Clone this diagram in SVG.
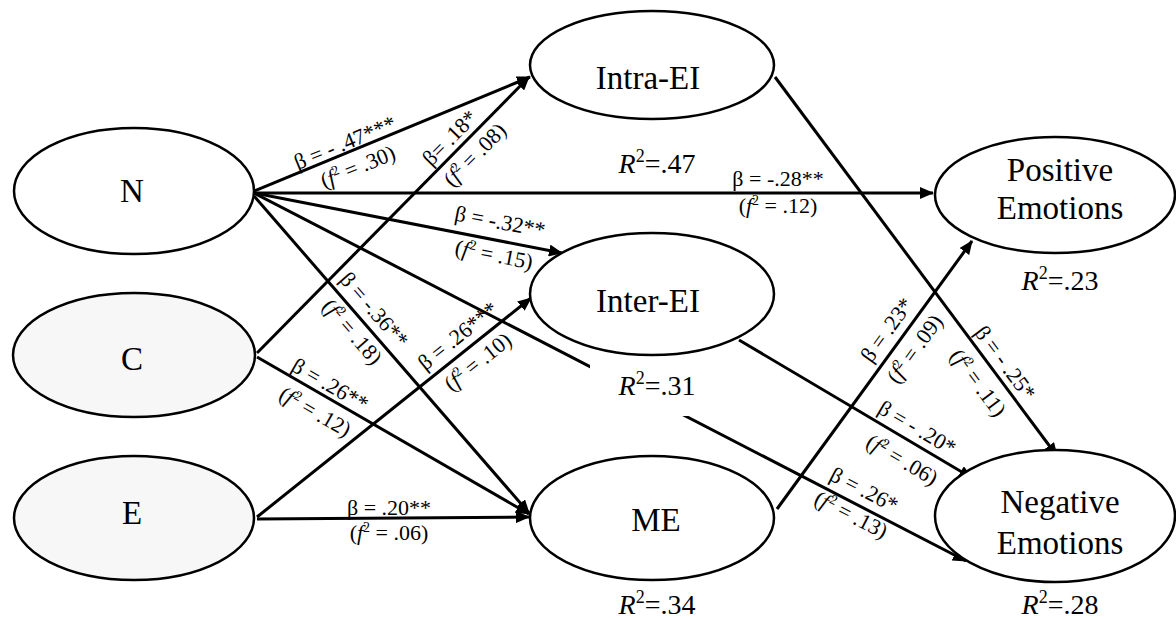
<svg xmlns="http://www.w3.org/2000/svg" width="1176" height="619" viewBox="0 0 1176 619">
<style>
.node{stroke:#000;stroke-width:2.5}
.w{fill:#fff}
.g{fill:#f7f7f7}
.nt{font-family:"Liberation Serif","Times New Roman",serif;font-size:33px;text-anchor:middle;fill:#000}
.r2{font-family:"Liberation Serif","Times New Roman",serif;font-size:28px;text-anchor:middle;fill:#000}
.el{font-family:"Liberation Serif","Times New Roman",serif;font-size:22px;text-anchor:middle;fill:#000}
.sup{font-size:14px}
.e{stroke:#000;stroke-width:3;fill:none;marker-end:url(#ah)}
</style>
<defs>
<marker id="ah" markerUnits="userSpaceOnUse" markerWidth="14" markerHeight="12" refX="13" refY="6" orient="auto">
<path d="M0,0 L14,6 L0,12 z" fill="#000"/>
</marker>
</defs>
<rect width="1176" height="619" fill="#fff"/>
<g id="connectors">
<line class="e" x1="254" y1="191" x2="530" y2="77"/>
<line class="e" x1="254" y1="193" x2="933" y2="193"/>
<line class="e" x1="254" y1="193" x2="562" y2="253"/>
<line class="e" x1="254" y1="193" x2="966" y2="561"/>
<line class="e" x1="254" y1="196" x2="529" y2="513"/>
<line class="e" x1="257" y1="353" x2="529" y2="77"/>
<line class="e" x1="257" y1="357" x2="529" y2="514"/>
<line class="e" x1="257" y1="517" x2="531" y2="298"/>
<line class="e" x1="257" y1="519" x2="529" y2="517"/>
<line class="e" x1="775" y1="77" x2="1057" y2="456"/>
<line class="e" x1="739" y1="340" x2="972" y2="478"/>
<line class="e" x1="777" y1="509" x2="972" y2="241"/>
</g>
<g id="node-N"><ellipse class="node w" cx="134" cy="191" rx="120" ry="63"/><text class="nt" x="132" y="202">N</text></g>
<g id="node-C"><ellipse class="node g" cx="134" cy="355" rx="121" ry="62"/><text class="nt" x="132" y="370">C</text></g>
<g id="node-E"><ellipse class="node g" cx="134" cy="518" rx="120" ry="62"/><text class="nt" x="132" y="524">E</text></g>
<g id="node-IntraEI"><ellipse class="node w" cx="652" cy="65" rx="122" ry="54"/><text class="nt" x="648" y="89">Intra-EI</text></g>
<g id="node-InterEI"><ellipse class="node w" cx="652" cy="294" rx="122" ry="61"/><text class="nt" x="648" y="312">Inter-EI</text></g>
<g id="node-ME"><ellipse class="node w" cx="652" cy="518" rx="122" ry="62"/><text class="nt" x="656" y="531">ME</text></g>
<g id="node-PosEmo"><ellipse class="node w" cx="1055" cy="195" rx="120" ry="58"/><text class="nt" x="1060" y="181">Positive</text><text class="nt" x="1060" y="219">Emotions</text></g>
<g id="node-NegEmo"><ellipse class="node w" cx="1055" cy="516" rx="120" ry="66"/><text class="nt" x="1060" y="513">Negative</text><text class="nt" x="1060" y="554">Emotions</text></g>
<g id="r2-labels">
<text class="r2" x="657" y="173"><tspan font-style="italic">R</tspan><tspan font-size="18" dy="-11">2</tspan><tspan dy="11">=.47</tspan></text>
<rect x="590" y="364" width="135" height="52" fill="#fff"/>
<text class="r2" x="657" y="395"><tspan font-style="italic">R</tspan><tspan font-size="18" dy="-11">2</tspan><tspan dy="11">=.31</tspan></text>
<text class="r2" x="657" y="614"><tspan font-style="italic">R</tspan><tspan font-size="18" dy="-11">2</tspan><tspan dy="11">=.34</tspan></text>
<text class="r2" x="1060" y="290"><tspan font-style="italic">R</tspan><tspan font-size="18" dy="-11">2</tspan><tspan dy="11">=.23</tspan></text>
<text class="r2" x="1060" y="614"><tspan font-style="italic">R</tspan><tspan font-size="18" dy="-11">2</tspan><tspan dy="11">=.28</tspan></text>
</g>
<g id="edge-labels">
<text class="el" transform="translate(345,143) rotate(-22.4)" y="7">β = - .47***</text>
<text class="el" transform="translate(358,167) rotate(-22.4)" y="7">(<tspan font-style="italic">f</tspan><tspan class="sup" dy="-8">2</tspan><tspan dy="8"> = .30)</tspan></text>
<text class="el" transform="translate(450,138) rotate(-45.5)" y="7">β= .18*</text>
<text class="el" transform="translate(475,155) rotate(-45.5)" y="7">(<tspan font-style="italic">f</tspan><tspan class="sup" dy="-8">2</tspan><tspan dy="8"> = .08)</tspan></text>
<text class="el" x="778" y="186">β = -.28**</text>
<text class="el" x="778" y="213">(<tspan font-style="italic">f</tspan><tspan class="sup" dy="-8">2</tspan><tspan dy="8"> = .12)</tspan></text>
<text class="el" transform="translate(500,222) rotate(11)" y="7">β = -.32**</text>
<text class="el" transform="translate(494,255) rotate(11)" y="7">(<tspan font-style="italic">f</tspan><tspan class="sup" dy="-8">2</tspan><tspan dy="8"> = .15)</tspan></text>
<text class="el" transform="translate(374,310) rotate(49)" y="7">β = -.36**</text>
<text class="el" transform="translate(352,332) rotate(49)" y="7">(<tspan font-style="italic">f</tspan><tspan class="sup" dy="-8">2</tspan><tspan dy="8"> = .18)</tspan></text>
<text class="el" transform="translate(330,385) rotate(29.9)" y="7">β = .26**</text>
<text class="el" transform="translate(315,412) rotate(29.9)" y="7">(<tspan font-style="italic">f</tspan><tspan class="sup" dy="-8">2</tspan><tspan dy="8"> = .12)</tspan></text>
<text class="el" transform="translate(458,336) rotate(-38.6)" y="7">β = .26***</text>
<text class="el" transform="translate(478,362) rotate(-38.6)" y="7">(<tspan font-style="italic">f</tspan><tspan class="sup" dy="-8">2</tspan><tspan dy="8"> = .10)</tspan></text>
<text class="el" x="389" y="515">β = .20**</text>
<text class="el" x="389" y="540">(<tspan font-style="italic">f</tspan><tspan class="sup" dy="-8">2</tspan><tspan dy="8"> = .06)</tspan></text>
<text class="el" transform="translate(887,330) rotate(-54)" y="7">β = .23*</text>
<text class="el" transform="translate(915,349) rotate(-54)" y="7">(<tspan font-style="italic">f</tspan><tspan class="sup" dy="-8">2</tspan><tspan dy="8"> = .09)</tspan></text>
<text class="el" transform="translate(1005,363) rotate(53.3)" y="7">β = - .25*</text>
<text class="el" transform="translate(978,383) rotate(53.3)" y="7">(<tspan font-style="italic">f</tspan><tspan class="sup" dy="-8">2</tspan><tspan dy="8"> = .11)</tspan></text>
<text class="el" transform="translate(917,428) rotate(30.6)" y="7">β = - .20*</text>
<text class="el" transform="translate(902,460) rotate(30.6)" y="7">(<tspan font-style="italic">f</tspan><tspan class="sup" dy="-8">2</tspan><tspan dy="8"> = .06)</tspan></text>
<text class="el" transform="translate(864,490) rotate(27.2)" y="7">β = .26*</text>
<text class="el" transform="translate(851,515) rotate(27.2)" y="7">(<tspan font-style="italic">f</tspan><tspan class="sup" dy="-8">2</tspan><tspan dy="8"> = .13)</tspan></text>
</g>
</svg>
